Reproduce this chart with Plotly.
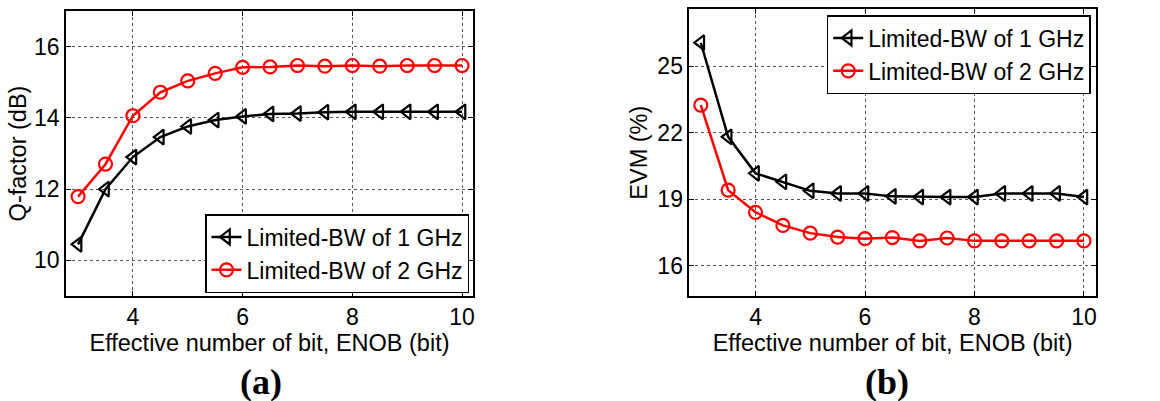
import plotly.graph_objects as go

enob = [3, 3.5, 4, 4.5, 5, 5.5, 6, 6.5, 7, 7.5, 8, 8.5, 9, 9.5, 10]

q_1ghz = [10.45, 12.0, 12.9, 13.46, 13.76, 13.94, 14.04, 14.11, 14.12, 14.16, 14.17, 14.17, 14.17, 14.17, 14.17]
q_2ghz = [11.79, 12.70, 14.06, 14.72, 15.04, 15.25, 15.42, 15.43, 15.47, 15.45, 15.47, 15.45, 15.47, 15.47, 15.47]

evm_1ghz = [26.07, 21.82, 20.17, 19.79, 19.38, 19.26, 19.26, 19.13, 19.1, 19.1, 19.1, 19.26, 19.26, 19.26, 19.1]
evm_2ghz = [23.25, 19.41, 18.41, 17.82, 17.47, 17.29, 17.22, 17.27, 17.12, 17.25, 17.12, 17.12, 17.12, 17.12, 17.12]

names = ["Limited-BW of 1 GHz", "Limited-BW of 2 GHz"]

FONT = "Liberation Sans, Arial, sans-serif"
SERIF = "Liberation Serif, Times New Roman, serif"
W, H = 1160, 401

fig = go.Figure()

def add(x, y, name, color, symbol, xa, ya, legend):
    fig.add_trace(go.Scatter(
        x=x, y=y, name=name, mode="lines+markers",
        line=dict(color=color, width=2.5),
        marker=dict(symbol=symbol, size=13, color=color,
                    line=dict(color=color, width=2.2)),
        xaxis=xa, yaxis=ya, legend=legend))

add(enob, q_1ghz, names[0], "black", "triangle-left-open", "x", "y", "legend")
add(enob, q_2ghz, names[1], "red", "circle-open", "x", "y", "legend")
add(enob, evm_1ghz, names[0], "black", "triangle-left-open", "x2", "y2", "legend2")
add(enob, evm_2ghz, names[1], "red", "circle-open", "x2", "y2", "legend2")

axis_common = dict(
    showline=True, linecolor="black", linewidth=1.5, mirror="ticks",
    ticks="inside", ticklen=5, tickwidth=1, tickcolor="black",
    showgrid=True, gridcolor="#555", griddash="dot", gridwidth=1,
    zeroline=False, automargin=False,
    tickfont=dict(family=FONT, size=23, color="black"),
)

TS = 23.5
LS = 23

fig.update_layout(
    width=W, height=H, margin=dict(l=0, r=0, t=0, b=0),
    plot_bgcolor="white", paper_bgcolor="white",
    font=dict(family=FONT, size=TS, color="black"),
    xaxis=dict(domain=[66 / W, 473 / W], range=[2.78, 10.2], dtick=2, anchor="y",
               title=dict(text="Effective number of bit, ENOB (bit)", standoff=0,
                          font=dict(family=FONT, size=TS)), **axis_common),
    yaxis=dict(domain=[1 - 296 / H, 1 - 11 / H], range=[9, 17], dtick=2, anchor="x",
               title=dict(text="Q-factor (dB)", standoff=1,
                          font=dict(family=FONT, size=TS)), **axis_common),
    xaxis2=dict(domain=[689.3 / W, 1096 / W], range=[2.79, 10.22], dtick=2, anchor="y2",
                title=dict(text="Effective number of bit, ENOB (bit)", standoff=0,
                           font=dict(family=FONT, size=TS)), **axis_common),
    yaxis2=dict(domain=[1 - 296 / H, 1 - 9.3 / H], range=[14.63, 27.58],
                tickvals=[16, 19, 22, 25], anchor="x2",
                title=dict(text="EVM (%)", standoff=3,
                           font=dict(family=FONT, size=TS)), **axis_common),
    legend=dict(x=469 / W, xanchor="right", y=1 - 293 / H, yanchor="bottom",
                bgcolor="white", bordercolor="black", borderwidth=1.5,
                font=dict(family=FONT, size=LS), itemwidth=30,
                tracegroupgap=0),
    legend2=dict(x=1090.7 / W, xanchor="right", y=1 - 15 / H, yanchor="top",
                 bgcolor="white", bordercolor="black", borderwidth=1.5,
                 font=dict(family=FONT, size=LS), itemwidth=30,
                 tracegroupgap=0),
    showlegend=True,
)

fig.add_annotation(text="<b>(a)</b>", x=260.5 / W, y=1 - 382 / H, xref="paper", yref="paper",
                   xanchor="center", yanchor="middle", showarrow=False,
                   font=dict(family=SERIF, size=36, color="black"))
fig.add_annotation(text="<b>(b)</b>", x=886.5 / W, y=1 - 382 / H, xref="paper", yref="paper",
                   xanchor="center", yanchor="middle", showarrow=False,
                   font=dict(family=SERIF, size=36, color="black"))

fig.write_html("out.html", config={"displayModeBar": False},
               post_script="document.body.style.margin='0';document.body.style.overflow='hidden';")
